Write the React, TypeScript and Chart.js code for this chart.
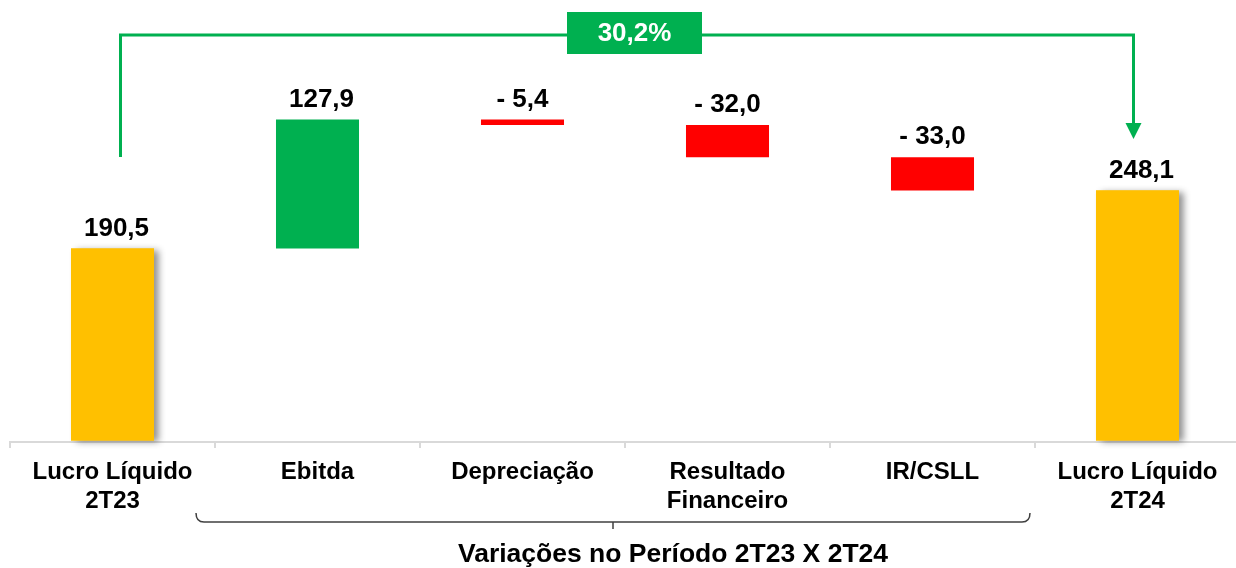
import React, { useEffect, useRef } from "react";
import { Chart, registerables } from "chart.js";

Chart.register(...registerables);

const categories: string[][] = [
  ["Lucro Líquido", "2T23"],
  ["Ebitda"],
  ["Depreciação"],
  ["Resultado", "Financeiro"],
  ["IR/CSLL"],
  ["Lucro Líquido", "2T24"],
];
const deltas: number[] = [190.5, 127.9, -5.4, -32.0, -33.0, 248.1];
const isTotal: boolean[] = [true, false, false, false, false, true];
const valueLabels: string[] = ["190,5", "127,9", "- 5,4", "- 32,0", "- 33,0", "248,1"];
const growthLabel = "30,2%";
const groupLabel = "Variações no Período 2T23 X 2T24";

const YELLOW = "#FFC000";
const GREEN = "#00B050";
const RED = "#FF0000";
const FONT = "'Liberation Sans', Arial, sans-serif";

function buildRanges(): number[][] {
  const out: number[][] = [];
  let run = 0;
  deltas.forEach((d, i) => {
    if (isTotal[i]) {
      out.push([0, d]);
      run = d;
    } else {
      out.push([run, run + d]);
      run = run + d;
    }
  });
  return out;
}

const colors = deltas.map((d, i) => (isTotal[i] ? YELLOW : d >= 0 ? GREEN : RED));

const overlayPlugin = {
  id: "overlay",
  beforeDatasetsDraw(chart: any) {
    const ctx = chart.ctx;
    const meta = chart.getDatasetMeta(0);
    meta.data.forEach((bar: any, i: number) => {
      if (!isTotal[i]) return;
      const { x, y, base, width } = bar.getProps(["x", "y", "base", "width"], true);
      ctx.save();
      ctx.shadowColor = "rgba(0,0,0,0.45)";
      ctx.shadowBlur = 7;
      ctx.shadowOffsetX = 5;
      ctx.shadowOffsetY = 2;
      ctx.fillStyle = YELLOW;
      ctx.fillRect(x - width / 2, Math.min(y, base), width, Math.abs(base - y));
      ctx.restore();
    });
  },
  afterDraw(chart: any) {
    const ctx = chart.ctx;
    const xs = chart.scales.x;
    const meta = chart.getDatasetMeta(0);

    // value labels
    ctx.save();
    ctx.font = `bold 26px ${FONT}`;
    ctx.fillStyle = "#000";
    ctx.textAlign = "center";
    ctx.textBaseline = "middle";
    meta.data.forEach((bar: any, i: number) => {
      const { x, y, base } = bar.getProps(["x", "y", "base"], true);
      const dx = deltas[i] >= 0 ? 4 : 0;
      ctx.fillText(valueLabels[i], x + dx, Math.min(y, base) - 20);
    });
    ctx.restore();

    // growth connector
    const xl = xs.getPixelForValue(0) + 8;
    const xr = xs.getPixelForValue(5) - 4;
    const yTop = 35;
    ctx.save();
    ctx.strokeStyle = GREEN;
    ctx.lineWidth = 3;
    ctx.beginPath();
    ctx.moveTo(xl, 157);
    ctx.lineTo(xl, yTop);
    ctx.lineTo(xr, yTop);
    ctx.lineTo(xr, 124);
    ctx.stroke();
    ctx.fillStyle = GREEN;
    ctx.beginPath();
    ctx.moveTo(xr - 8, 123);
    ctx.lineTo(xr + 8, 123);
    ctx.lineTo(xr, 139);
    ctx.closePath();
    ctx.fill();
    // box
    const bx = 634.5;
    ctx.fillRect(bx - 67.5, 12, 135, 42);
    ctx.fillStyle = "#fff";
    ctx.font = `bold 26px ${FONT}`;
    ctx.textAlign = "center";
    ctx.textBaseline = "middle";
    ctx.fillText(growthLabel, bx, 34);
    ctx.restore();

    // bracket under variations
    const b0 = 196;
    const b1 = 1030;
    const by = 522;
    const mid = (b0 + b1) / 2;
    ctx.save();
    ctx.strokeStyle = "#404040";
    ctx.lineWidth = 1.5;
    ctx.beginPath();
    ctx.moveTo(b0, 513);
    ctx.quadraticCurveTo(b0, by, b0 + 8, by);
    ctx.lineTo(b1 - 8, by);
    ctx.quadraticCurveTo(b1, by, b1, 513);
    ctx.moveTo(mid, by);
    ctx.lineTo(mid, 529);
    ctx.stroke();
    ctx.fillStyle = "#000";
    ctx.font = `bold 26.5px ${FONT}`;
    ctx.textAlign = "center";
    ctx.textBaseline = "middle";
    ctx.fillText(groupLabel, 673, 555);
    ctx.restore();
  },
};

export default function App() {
  const ref = useRef<HTMLCanvasElement | null>(null);
  useEffect(() => {
    document.body.style.overflow = "hidden";
    if (!ref.current) return;
    const chart = new Chart(ref.current, {
      type: "bar",
      data: {
        labels: categories,
        datasets: [
          {
            data: buildRanges() as any,
            backgroundColor: colors,
            borderWidth: 0,
            barPercentage: 0.81,
            categoryPercentage: 0.5,
          },
        ],
      },
      options: {
        responsive: false,
        animation: false,
        layout: { padding: { left: 10, right: 0, top: 0, bottom: 0 } },
        plugins: {
          legend: { display: false },
          tooltip: { enabled: false },
        },
        scales: {
          x: {
            afterFit: (scale: any) => {
              scale.height = 126;
            },
            grid: {
              display: true,
              offset: true,
              drawOnChartArea: false,
              drawTicks: true,
              tickLength: 6,
              color: "#d9d9d9",
              lineWidth: 2,
            },
            border: { display: true, color: "#d9d9d9", width: 2 },
            ticks: {
              color: "#000",
              font: { family: FONT, size: 24, weight: "bold" },
              padding: 10,
              maxRotation: 0,
              autoSkip: false,
            },
          },
          y: {
            display: false,
            min: -1.49,
            max: 437,
          },
        },
      },
      plugins: [overlayPlugin],
    });
    return () => chart.destroy();
  }, []);
  return (
    <canvas
      ref={ref}
      width={1240}
      height={568}
      style={{ position: "fixed", left: 0, top: 0, width: 1240, height: 568 }}
    />
  );
}
